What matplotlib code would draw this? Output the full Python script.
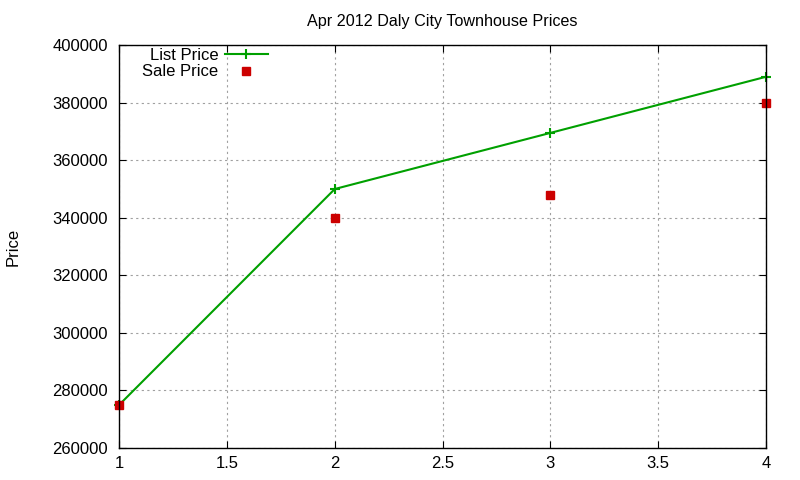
import matplotlib
matplotlib.use("Agg")
import matplotlib.pyplot as plt
from matplotlib.ticker import MultipleLocator, FuncFormatter

plt.rcParams['font.family'] = ['Liberation Sans', 'DejaVu Sans']

x = [1, 2, 3, 4]
list_price = [275000, 350000, 369500, 389000]
sale_price = [275000, 340000, 348000, 380000]

fig = plt.figure(figsize=(8, 4.8), dpi=100)
ax = fig.add_axes([0.149, 0.0667, 0.8085, 0.8393])

ax.plot(x, list_price, color="#00a000", lw=1.5, marker="+", ms=7, mew=1.5,
        label="List Price", clip_on=False)
ax.plot(x, sale_price, ls="none", color="#cc0000", marker="s", ms=6,
        label="Sale Price", clip_on=False)

ax.set_xlim(1, 4)
ax.set_ylim(260000, 400000)
ax.xaxis.set_major_locator(MultipleLocator(0.5))
ax.yaxis.set_major_locator(MultipleLocator(20000))
ax.xaxis.set_major_formatter(FuncFormatter(lambda v, p: f"{v:g}"))
ax.yaxis.set_major_formatter(FuncFormatter(lambda v, p: f"{int(v)}"))
ax.tick_params(direction="in", top=True, right=True, labelsize=12, length=5)
ax.tick_params(axis="y", pad=8)
ax.tick_params(axis="x", pad=6)
ax.grid(True, color="#a0a0a0", ls=(0, (2, 3)), lw=0.8)
for s in ax.spines.values():
    s.set_linewidth(1.0)

ax.set_ylabel("Price", fontsize=12)
ax.yaxis.set_label_coords(-0.153, 0.5)
ax.set_title("Apr 2012 Daly City Townhouse Prices", fontsize=11.6, pad=14)

ax.legend(loc="upper left", frameon=False, markerfirst=False, fontsize=12,
          handlelength=2.6, handletextpad=0.4, borderaxespad=0.0,
          labelspacing=0.1, bbox_to_anchor=(0.025, 1.01))

fig.savefig("out.png", dpi=100)
